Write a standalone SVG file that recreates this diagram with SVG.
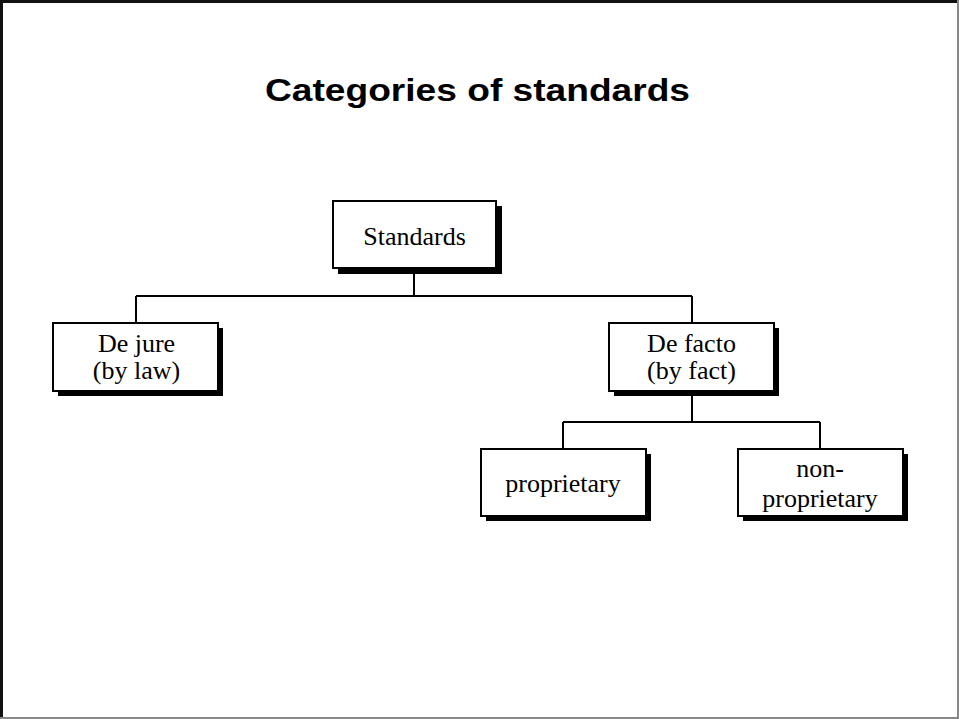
<svg xmlns="http://www.w3.org/2000/svg" width="959" height="719" viewBox="0 0 959 719">
<style>
.box{fill:#fff;stroke:#000;stroke-width:2}
.sh{fill:#000}
.t{font-family:"Liberation Serif",serif;font-size:26px;fill:#000;text-anchor:middle}
.c{fill:none;stroke:#000;stroke-width:2}
</style>
<rect x="0" y="0" width="959" height="719" fill="#fff"/>
<path d="M1.5,719 V1.5 H959" fill="none" stroke="#111" stroke-width="3"/>
<path d="M958,0 V718 H0" fill="none" stroke="#888" stroke-width="2"/>
<text x="477.5" y="101" font-family="Liberation Sans, Arial, sans-serif" font-weight="bold" font-size="32" text-anchor="middle" textLength="425" lengthAdjust="spacingAndGlyphs">Categories of standards</text>
<g id="connectors">
<path class="c" d="M414,268 V296 M136,296 H692 M136,296 V323 M692,296 V323"/>
<path class="c" d="M692,391 V422 M563,422 H820 M563,422 V449 M820,422 V449"/>
</g>
<g id="standards">
<rect class="sh" x="338" y="206" width="164" height="68"/>
<rect class="box" x="333" y="201" width="163" height="67"/>
<text class="t" x="414.5" y="245">Standards</text>
</g>
<g id="dejure">
<rect class="sh" x="58" y="328" width="165" height="68"/>
<rect class="box" x="53" y="323" width="165" height="68"/>
<text class="t" x="136.5" y="352">De jure</text>
<text class="t" x="136.5" y="379">(by law)</text>
</g>
<g id="defacto">
<rect class="sh" x="614" y="328" width="165" height="68"/>
<rect class="box" x="609" y="323" width="165" height="68"/>
<text class="t" x="691.5" y="352">De facto</text>
<text class="t" x="691.5" y="379">(by fact)</text>
</g>
<g id="proprietary">
<rect class="sh" x="486" y="454" width="165" height="67"/>
<rect class="box" x="481" y="449" width="165" height="67"/>
<text class="t" x="563" y="492">proprietary</text>
</g>
<g id="nonproprietary">
<rect class="sh" x="743" y="454" width="165" height="67"/>
<rect class="box" x="738" y="449" width="165" height="67"/>
<text class="t" x="820" y="477">non-</text>
<text class="t" x="820" y="507">proprietary</text>
</g>
</svg>
